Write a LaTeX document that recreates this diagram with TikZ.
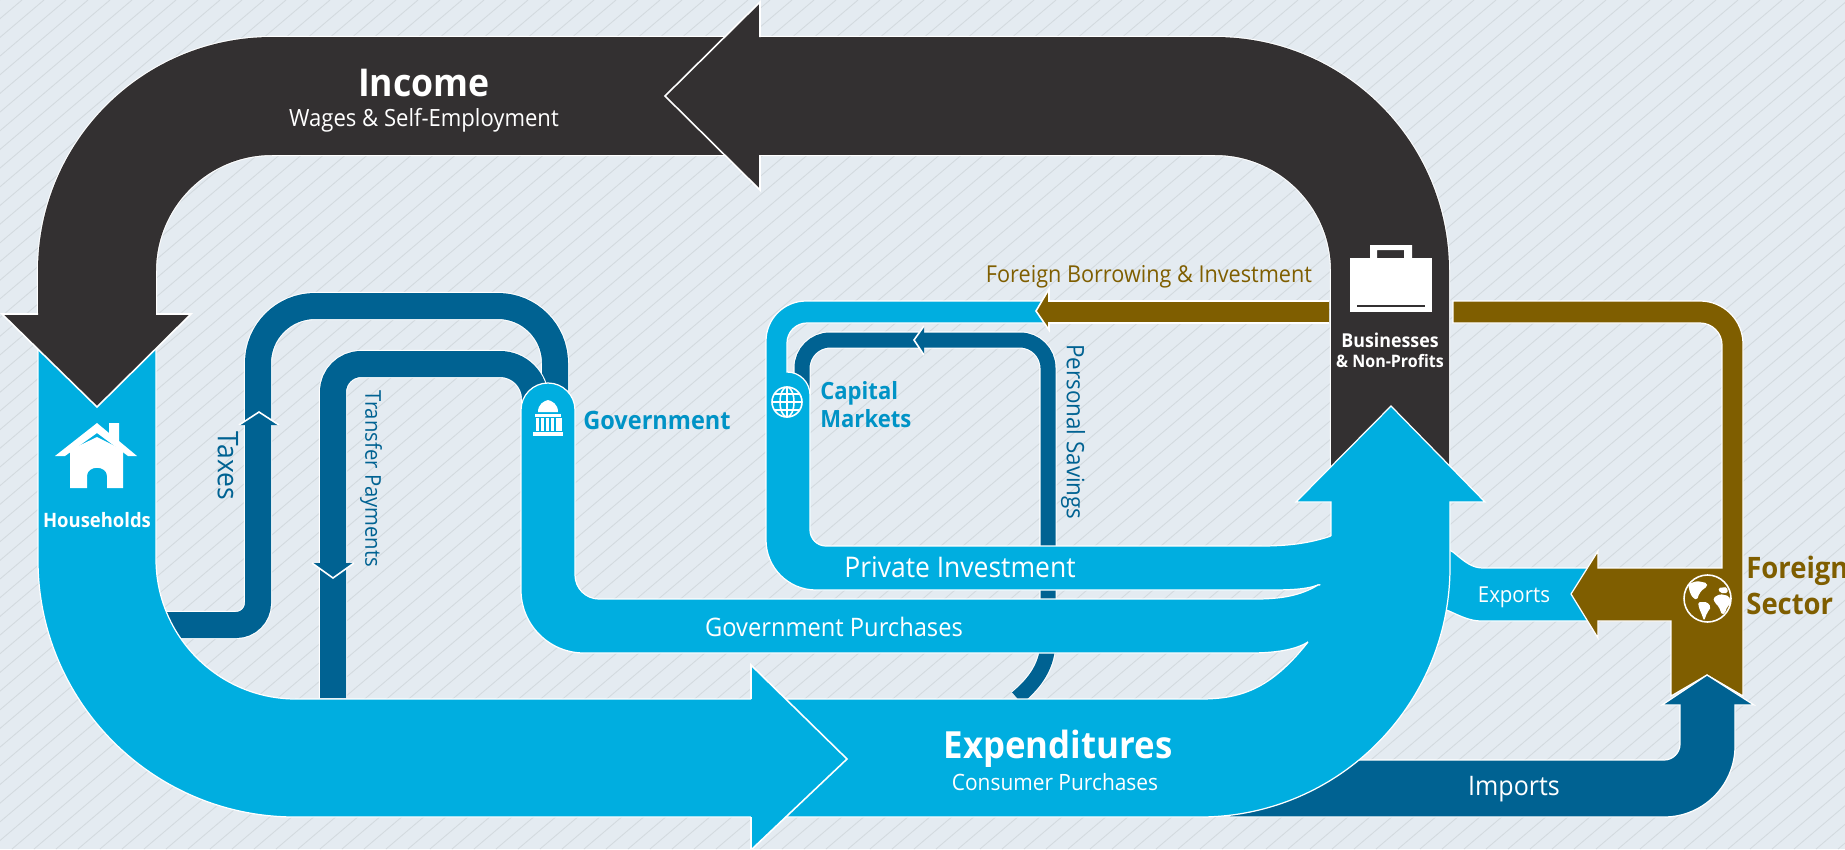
\documentclass[tikz,border=0pt]{standalone}
\usepackage{fontspec}
\setmainfont[FakeStretch=0.93]{Open Sans}
\definecolor{paper}{HTML}{E4EBF1}
\definecolor{stripe}{HTML}{D3DADF}
\definecolor{coal}{HTML}{333031}
\definecolor{flow}{HTML}{00AEE0}
\definecolor{deepflow}{HTML}{006292}
\definecolor{earth}{HTML}{7F5E00}
\definecolor{govtext}{HTML}{0093C6}
\tikzset{
  band/.style={draw=white,line width=0.6pt,double=#1},
  ribbon/.style={fill=#1,draw=white,line width=0.7pt},
  head/.style={fill=#1,draw=white,line width=0.9pt},
  icon/.style={draw=white,line width=0.9pt},
  lab/.style={font=\fontsize{#1}{#1}\selectfont,inner sep=0pt,align=center},
  bold/.style={font=\fontsize{#1}{#1}\selectfont\bfseries,inner sep=0pt,align=left}
}
\begin{document}
\begin{tikzpicture}[x=0.02cm,y=-0.02cm]

      % Backdrop
      \useasboundingbox (0,0) rectangle (1845,849);
      \clip (0,0) rectangle (1845,849);
      \fill[paper] (0,0) rectangle (1845,849);
      \foreach \s in {-1000,-978,...,1845}
      {
        \draw[stripe,line width=0.5pt] (\s,849) -- ++(1000,-849);
      }

      % Income
      \draw[band=coal,double distance=2.36cm,rounded corners=3.5cm]
        (97,316) -- (97,96) -- (1390,96) -- (1390,490);
      \path[head=coal] (760,37) -- (760,2) -- (665,96) -- (760,190) -- (760,155);

      % Taxes and transfers
      \draw[band=deepflow,double distance=0.52cm]
        (165,625) [rounded corners=0.44cm] -- (258,625) [rounded corners=1.14cm] -- (258,306) -- (555,306) -- (555,420);
      \draw[band=deepflow,double distance=0.52cm]
        (333,698) [rounded corners=0.56cm] -- (333,364) [rounded corners=0.7cm] -- (535,364) -- (535,420);
      \path[head=deepflow] (239,425) -- (259,412) -- (279,425);
      \path[head=deepflow] (312,563) -- (333,578) -- (354,563);

      % Personal savings
      \draw[band=deepflow,double distance=0.3cm]
        (802,400) [rounded corners=0.56cm] -- (802,340) -- (1048,340) [sharp corners] -- (1048,640)
        .. controls (1048,665) and (1036,682) .. (1017,698);
      \path[head=deepflow] (924,326) -- (914,340) -- (924,355);

      % Private investment
      \path[ribbon=flow] (1345,530) -- (1331,536) .. controls (1310,543) and (1290,546) .. (1260,546)
        [rounded corners=0.32cm] -- (810,546) [rounded corners=0.46cm] -- (810,372) [sharp corners] -- (787,372)
        [rounded corners=0.4cm] -- (787,323) [sharp corners] -- (1048,323) -- (1048,301)
        [rounded corners=0.8cm] -- (766,301) [rounded corners=1cm] -- (766,590) [sharp corners]
        -- (1265,590) .. controls (1285,590) and (1305,590) .. (1318,585) -- (1345,585);

      % Government purchases
      \path[ribbon=flow] (1345,585) -- (1318,585) .. controls (1300,596) and (1280,599) .. (1255,599)
        [rounded corners=0.48cm] -- (575,599) [rounded corners=0.54cm] -- (575,383) -- (521,383)
        [rounded corners=1.26cm] -- (521,653) [sharp corners]
        -- (1250,653) .. controls (1275,653) and (1295,650) .. (1308,642) -- (1345,642);

      % Foreign sector
      \path[head=earth] (1329,301) -- (1049,301) -- (1049,289) -- (1036,311) -- (1049,330) -- (1049,323) -- (1329,323);
      \path[ribbon=flow] (1440,545) -- (1453,552) .. controls (1465,562) and (1472,568) .. (1483,568)
        -- (1590,568) -- (1590,621) -- (1481,621) .. controls (1470,621) and (1460,616) .. (1449,611) -- (1440,608);
      \path[ribbon=earth] (1453,323) -- (1453,301) [rounded corners=0.86cm] -- (1743,301) [sharp corners] -- (1743,696)
        -- (1707,675) -- (1671,696) -- (1671,621) -- (1598,621) -- (1598,638) -- (1571,594) -- (1598,551) -- (1598,568)
        -- (1722,568) [rounded corners=0.44cm] -- (1722,323) [sharp corners] -- cycle;

      % Imports
      \path[ribbon=deepflow] (1230,817) [rounded corners=1.42cm] -- (1735,817) [sharp corners] -- (1735,705)
        -- (1754,705) -- (1707,675) -- (1662,705) -- (1680,705) [rounded corners=0.32cm] -- (1680,760) [sharp corners] -- (1230,760);

      % Expenditures
      \path[ribbon=flow] (1308,642) .. controls (1270,690) and (1240,699) .. (1200,699)
        [rounded corners=2.8cm] -- (156,699) [sharp corners] -- (156,345) -- (38,345)
        [rounded corners=5.14cm] -- (38,817) [rounded corners=5cm] -- (1450,817) [sharp corners] -- (1450,502)
        -- (1485,502) -- (1391,406) -- (1296,502) -- (1331,502) -- (1331,536);
      \path[head=flow] (751,699) -- (751,665) -- (847,759) -- (751,850) -- (751,817);
      \path[head=coal] (38,314) -- (2,314) -- (97,407) -- (191,314) -- (156,314);

      % Household icon
      \fill[white] (70,488) -- (70,450) -- (97,437) -- (123,450) -- (123,488) -- (107,488) -- (107,476)
        .. controls (107,465) and (87,465) .. (87,476) -- (87,488) -- cycle;
      \fill[white] (55,456) -- (97,423) -- (109,433) -- (109,423) -- (119,423) -- (119,441) -- (137,456)
        -- (128,456) -- (97,433) -- (65,456) -- cycle;

      % Government icon
      \fill[white] (538,412) .. controls (538,404) and (544,401) .. (548,400) .. controls (552,401) and (558,404) .. (558,412) -- cycle;
      \fill[white] (535,414) rectangle (561,417);
      \fill[white] (533,432) rectangle (563,436);
      \foreach \x in {536,541,...,556}
      {
        \fill[white] (\x,418) rectangle ++(2.5,13);
      }
      \fill[white] (559,418) rectangle ++(2.5,13);

      % Capital markets icon
      \draw[icon] (787,402) circle (15);
      \draw[icon] (787,402) ellipse (7 and 15);
      \draw[icon] (772,402) -- (802,402);
      \draw[icon] (775,394) -- (799,394);
      \draw[icon] (775,410) -- (799,410);
      \draw[icon] (787,387) -- (787,417);

      % Business icon
      \fill[white] (1350,258) rectangle (1432,312);
      \fill[white,even odd rule] (1370,245) rectangle (1412,258) (1377,250) rectangle (1404,258);
      \draw[coal,line width=1.1pt] (1357,306) -- (1425,306);

      % Earth icon
      \draw[icon] (1707.5,598.5) circle (23.5);
      \fill[white,rounded corners=1pt] (1688,584) -- (1697,581) -- (1707,583) -- (1707,587) -- (1703,589) -- (1699,594) -- (1697,600) -- (1693,598) -- (1690,593) -- cycle;
      \fill[white,rounded corners=1pt] (1698,602) -- (1707,602) -- (1711,607) -- (1707,613) -- (1704,621) -- (1702,615) -- (1699,608) -- cycle;
      \fill[white,rounded corners=1pt] (1718,588) -- (1727,587) -- (1728,593) -- (1720,593) -- cycle;
      \fill[white,rounded corners=1pt] (1713,598) -- (1720,594) -- (1729,596) -- (1731,603) -- (1727,607) -- (1725,613) -- (1722,615) -- (1719,607) -- (1715,603) -- cycle;

      % Big labels
      \node[bold=21.8,white,align=center] (income) at (424,83) {Income};
      \node[lab=13.5,white] (wages) at (424,120) {Wages \& Self-Employment};
      \node[bold=21.3,white,align=center] (spend) at (1058,749) {Expenditures};
      \node[lab=12.8,white] (consumer) at (1055,782) {Consumer Purchases};

      % Sector labels
      \node[bold=11.3,white,align=center] (home) at (97,520) {Households};
      \node[bold=10.9,white,align=center] (firm) at (1390,340) {Businesses};
      \node[bold=9.8,white,align=center] (nonprofit) at (1390,361) {\& Non-Profits};
      \node[bold=14.4,govtext,anchor=west] (gov) at (583,420) {Government};
      \node[bold=13.5,govtext,anchor=west] (capital) at (820,393) {Capital};
      \node[bold=13.5,govtext,anchor=west] (market) at (820,419) {Markets};
      \node[bold=16.8,earth,anchor=west] (foreign) at (1746,571) {Foreign};
      \node[bold=16.8,earth,anchor=west] (sector) at (1746,604) {Sector};

      % Flow labels
      \node[lab=16.2,white] (private) at (960,567) {Private Investment};
      \node[lab=14.5,white] (purchase) at (834,627) {Government Purchases};
      \node[lab=13.25,earth] (borrow) at (1149,277) {Foreign Borrowing \& Investment};
      \node[lab=12.5,white] (export) at (1514,597) {Exports};
      \node[lab=15.3,white] (import) at (1514,789) {Imports};
      \node[lab=16.2,deepflow,rotate=-90] (tax) at (228,466) {Taxes};
      \node[lab=12.4,deepflow,rotate=-90] (transfer) at (371,479) {Transfer Payments};
      \node[lab=13.7,deepflow,rotate=-90] (saving) at (1073,432) {Personal Savings};

\end{tikzpicture}
\end{document}
